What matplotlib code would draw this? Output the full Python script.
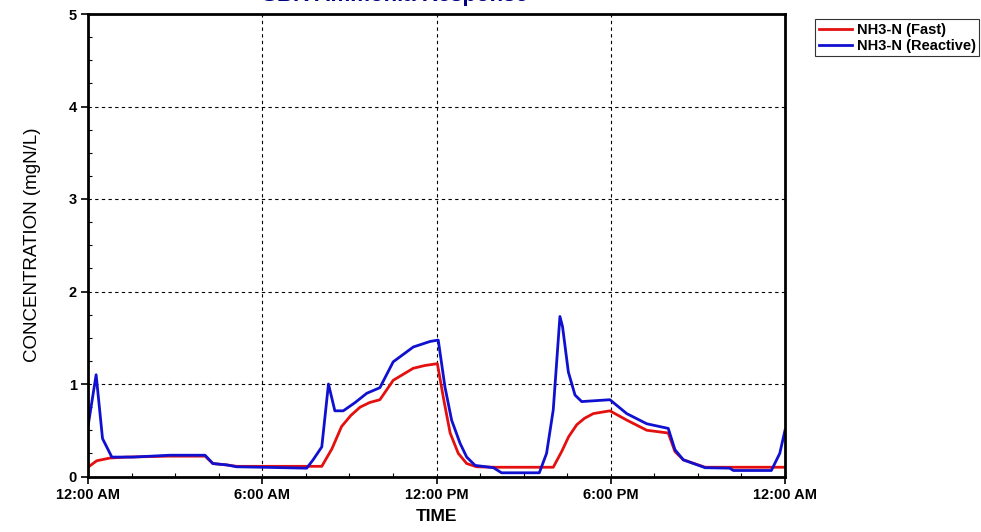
import matplotlib
matplotlib.use("Agg")
import matplotlib.pyplot as plt
from matplotlib.ticker import MultipleLocator
import numpy as np

plt.rcParams['font.family'] = ['Liberation Sans', 'DejaVu Sans']

# hours since midnight, concentration in mgN/L
fast_t = [0, 0.3, 0.76, 1.33, 2.8, 4.03, 4.3, 4.78, 5.12, 6.0, 7.0, 8.05,
          8.4, 8.73, 9.05, 9.37, 9.7, 10.05, 10.51, 11.2, 11.6, 12.03,
          12.25, 12.47, 12.75, 13.04, 13.38, 14.0, 15.0, 16.02,
          16.31, 16.55, 16.83, 17.1, 17.4, 17.97, 18.55, 19.24, 19.98,
          20.21, 20.5, 21.25, 22.0, 23.0, 24.0]
fast_v = [0.1, 0.17, 0.2, 0.21, 0.22, 0.22, 0.14, 0.125, 0.11, 0.11, 0.11, 0.11,
          0.3, 0.54, 0.66, 0.75, 0.8, 0.83, 1.04, 1.17, 1.2, 1.22,
          0.83, 0.47, 0.25, 0.14, 0.105, 0.1, 0.1, 0.1,
          0.27, 0.43, 0.56, 0.63, 0.68, 0.71, 0.61, 0.5, 0.47,
          0.27, 0.18, 0.1, 0.1, 0.1, 0.1]

reactive_t = [0, 0.28, 0.5, 0.82, 1.55, 2.82, 4.03, 4.3, 4.78, 5.12, 6.0, 7.53,
              7.75, 8.05, 8.28, 8.5, 8.79, 9.2, 9.6, 10.05, 10.51, 11.2, 11.78,
              12.06, 12.29, 12.52, 12.81, 13.04, 13.33, 13.96, 14.24, 15.54,
              15.79, 16.02, 16.25, 16.34, 16.54, 16.77, 17.0, 17.97, 18.55,
              19.24, 19.98, 20.21, 20.5, 21.25, 22.1, 22.22, 23.53, 23.82, 24.0]
reactive_v = [0.54, 1.1, 0.41, 0.21, 0.21, 0.23, 0.23, 0.14, 0.125, 0.105, 0.1, 0.09,
              0.18, 0.32, 1.0, 0.71, 0.71, 0.8, 0.9, 0.96, 1.24, 1.4, 1.46,
              1.475, 0.97, 0.61, 0.36, 0.21, 0.12, 0.095, 0.04, 0.04,
              0.25, 0.72, 1.73, 1.62, 1.13, 0.88, 0.81, 0.83, 0.68,
              0.57, 0.52, 0.29, 0.18, 0.095, 0.09, 0.065, 0.065, 0.25, 0.5]

tick_hours = [0, 6, 12, 18, 24]
tick_labels = ["12:00 AM", "6:00 AM", "12:00 PM", "6:00 PM", "12:00 AM"]

fig = plt.figure(figsize=(9.81, 5.32), dpi=100)
ax = fig.add_axes([88/981, 55.5/532, 697/981, 462.5/532])

ax.plot(fast_t, fast_v, color='#e41010', lw=2, label='NH3-N (Fast)')
ax.plot(reactive_t, reactive_v, color='#1010d0', lw=2, label='NH3-N (Reactive)')

ax.set_xlim(0, 24)
ax.set_ylim(0, 5)
ax.set_xticks(tick_hours)
ax.set_xticklabels(tick_labels)
ax.set_yticks(range(6))
ax.xaxis.set_minor_locator(MultipleLocator(1.5))
ax.yaxis.set_minor_locator(MultipleLocator(0.25))
ax.tick_params(which='major', direction='out', length=5, width=1.2,
               labelsize=10.5, pad=3)
ax.tick_params(which='minor', direction='in', length=3, width=0.8)
for lab in ax.get_xticklabels() + ax.get_yticklabels():
    lab.set_fontweight('bold')

ax.grid(True, which='major', color='black', linestyle=(0, (3, 3)), lw=0.8)
for s in ax.spines.values():
    s.set_linewidth(2)

ax.set_xlabel('TIME', fontsize=12.5, fontweight='bold', labelpad=5)
ax.set_ylabel('CONCENTRATION (mgN/L)', fontsize=13.5, labelpad=20)

# title is clipped by the top edge in the original
fig.text(395/981, 1 - 1.5/532, 'SBR Ammonia Response', color='#000080',
         fontsize=16, fontweight='bold', ha='center', va='baseline')

leg = fig.legend(loc='upper left', bbox_to_anchor=(815/981, 1 - 19/532),
                 frameon=True, fancybox=False, edgecolor='black',
                 prop={'weight': 'bold', 'size': 10.5}, handlelength=2.3,
                 handletextpad=0.3, borderpad=0.25, labelspacing=0.15,
                 borderaxespad=0)
leg.get_frame().set_linewidth(0.8)

fig.savefig('out.png', dpi=100)
